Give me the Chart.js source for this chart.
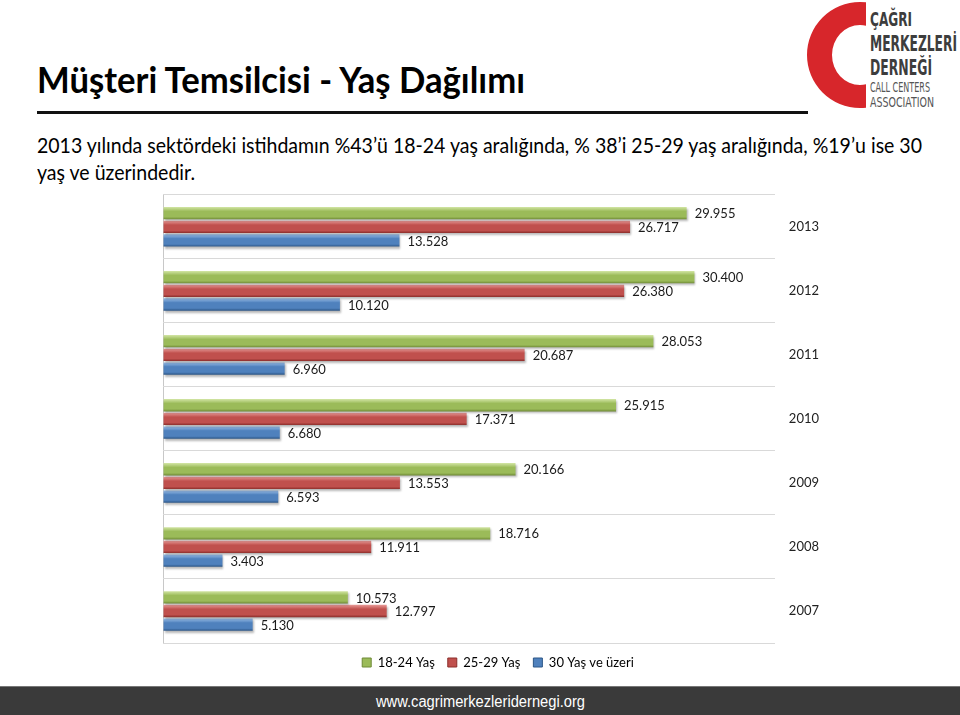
<!DOCTYPE html>
<html lang="tr">
<head>
<meta charset="utf-8">
<title>Müşteri Temsilcisi - Yaş Dağılımı</title>
<script src="https://cdn.jsdelivr.net/npm/chart.js@4/dist/chart.umd.min.js"></script>
<style>
    html, body { margin: 0; padding: 0; background: #fff; }
    body { width: 960px; height: 715px; position: relative; overflow: hidden; font-family: Lato, "Open Sans", sans-serif; color: #000; }
    .fit { position: absolute; white-space: nowrap; transform-origin: 0 0; }
    #title { left: 37px; top: 57px; font-size: 36px; font-weight: 700; line-height: 44px; }
    #rule { position: absolute; left: 37px; top: 111px; width: 771px; height: 3px; background: #111; }
    #sub1 { left: 37px; top: 132px; font-size: 21px; line-height: 26px; }
    #sub2 { left: 37px; top: 159px; font-size: 21px; line-height: 26px; }
    #logo { position: absolute; left: 800px; top: 0; }
    #chart-box { position: absolute; left: 148px; top: 173px; width: 685px; height: 510px; }
    #footer { position: absolute; left: 0; top: 686px; width: 960px; height: 29px; background: #3a3a3a; border-top: 1px solid #777; }
    #footer span { left: 376px; top: 5px; font-family: "Liberation Sans", Arial, sans-serif; font-size: 16px; color: #fff; line-height: 20px; }
</style>
</head>
<body>
<div id="title" class="fit" data-w="488">Müşteri Temsilcisi - Yaş Dağılımı</div>
<div id="rule"></div>
<div id="sub1" class="fit" data-w="885">2013 yılında sektördeki istihdamın %43’ü 18-24 yaş aralığında, % 38’i 25-29 yaş aralığında, %19’u ise 30</div>
<div id="sub2" class="fit" data-w="158">yaş ve üzerindedir.</div>

<svg id="logo" width="160" height="112" viewBox="800 0 160 112">
    <defs>
        <clipPath id="c-cut"><rect x="800" y="0" width="66" height="112"/></clipPath>
    </defs>
    <path clip-path="url(#c-cut)" fill="#d7262b" fill-rule="evenodd"
          d="M 807 55 A 53 53 0 1 0 913 55 A 53 53 0 1 0 807 55 Z M 832 55 A 28 30 0 1 0 888 55 A 28 30 0 1 0 832 55 Z"/>
    <g font-family="'DejaVu Sans Condensed', 'DejaVu Sans', sans-serif" fill="#3d3d3d">
        <text x="870" y="26" font-size="20" font-weight="700" textLength="42" lengthAdjust="spacingAndGlyphs">ÇAĞRI</text>
        <text x="870" y="51" font-size="21" font-weight="700" textLength="87" lengthAdjust="spacingAndGlyphs">MERKEZLERİ</text>
        <text x="870" y="75" font-size="21" font-weight="700" textLength="62" lengthAdjust="spacingAndGlyphs">DERNEĞİ</text>
        <text x="870" y="92" font-size="14" fill="#555" textLength="60" lengthAdjust="spacingAndGlyphs">CALL CENTERS</text>
        <text x="870" y="107" font-size="14" fill="#555" textLength="64" lengthAdjust="spacingAndGlyphs">ASSOCIATION</text>
    </g>
</svg>

<div id="chart-box"><canvas id="yas-chart"></canvas></div>

<div id="footer"><span class="fit" data-w="209">www.cagrimerkezleridernegi.org</span></div>

<script>
// Chart data
const years = ['2013', '2012', '2011', '2010', '2009', '2008', '2007'];
const age1824 = [29955, 30400, 28053, 25915, 20166, 18716, 10573];
const age2529 = [26717, 26380, 20687, 17371, 13553, 11911, 12797];
const age30plus = [13528, 10120, 6960, 6680, 6593, 3403, 5130];
const seriesNames = ['18-24 Yaş', '25-29 Yaş', '30 Yaş ve üzeri'];
const valueMax = 35000;

// base / light / dark shades per series
const shades = [
    ['#9bbb59', '#d2e5a4', '#6f8a36'],
    ['#c0504d', '#e89a97', '#8c2e2b'],
    ['#4f81bd', '#9cc0ea', '#2c5687']
];
const CAT_PCT = 0.64;
const BAR_PCT = 0.9;

// stretch/shrink a text block to the width it has in the picture
function fitText() {
    document.querySelectorAll('.fit').forEach(el => {
        const target = parseFloat(el.dataset.w);
        const actual = el.getBoundingClientRect().width;
        if (actual > 0) el.style.transform = 'scaleX(' + (target / actual) + ')';
    });
}

function formatTr(v) {
    return String(v).replace(/\B(?=(\d{3})+(?!\d))/g, '.');
}

// vertical gloss on each bar, worked out from the category scale
function glossFill(seriesIndex) {
    const [base, light, dark] = shades[seriesIndex];
    return function (c) {
        const yScale = c.chart.scales && c.chart.scales.y;
        if (!yScale || !isFinite(yScale.top) || c.dataIndex === undefined) return base;
        const band = yScale.height / years.length;
        const group = band * CAT_PCT;
        const slot = group / 3;
        const mid = yScale.getPixelForValue(c.dataIndex) - group / 2 + (seriesIndex + 0.5) * slot;
        const half = slot * BAR_PCT / 2;
        const g = c.chart.ctx.createLinearGradient(0, mid - half, 0, mid + half);
        g.addColorStop(0, light);
        g.addColorStop(0.35, base);
        g.addColorStop(0.8, base);
        g.addColorStop(1, dark);
        return g;
    };
}

// soft shadow under the bars
const barShadow = {
    id: 'barShadow',
    beforeDatasetsDraw(chart) {
        const ctx = chart.ctx;
        ctx.save();
        ctx.shadowColor = 'rgba(0,0,0,0.28)';
        ctx.shadowBlur = 2;
        ctx.shadowOffsetX = 1;
        ctx.shadowOffsetY = 2;
    },
    afterDatasetsDraw(chart) {
        chart.ctx.restore();
    }
};

// value labels at the end of every bar
const valueLabels = {
    id: 'valueLabels',
    afterDatasetsDraw(chart) {
        const ctx = chart.ctx;
        ctx.save();
        ctx.font = '13px Lato, "Open Sans", sans-serif';
        ctx.fillStyle = '#1a1a1a';
        ctx.textAlign = 'left';
        ctx.textBaseline = 'middle';
        chart.data.datasets.forEach((ds, i) => {
            chart.getDatasetMeta(i).data.forEach((bar, j) => {
                ctx.fillText(formatTr(ds.data[j]), bar.x + 8, bar.y + 1);
            });
        });
        ctx.restore();
    }
};

function initChart() {
    fitText();
    const ctx = document.getElementById('yas-chart').getContext('2d');
    const seriesData = [age1824, age2529, age30plus];
    new Chart(ctx, {
        type: 'bar',
        data: {
            labels: years,
            datasets: seriesData.map((vals, i) => ({
                label: seriesNames[i],
                data: vals,
                backgroundColor: glossFill(i),
                borderWidth: 0,
                categoryPercentage: CAT_PCT,
                barPercentage: BAR_PCT
            }))
        },
        options: {
            indexAxis: 'y',
            responsive: true,
            maintainAspectRatio: false,
            animation: false,
            events: [],
            layout: { padding: { left: 15, right: 0, top: 7, bottom: 4 } },
            scales: {
                x: {
                    min: 0,
                    max: valueMax,
                    ticks: { display: false, stepSize: 5000 },
                    grid: {
                        drawTicks: false,
                        color: c => (c.tick && c.tick.value === 0 ? '#c8c8c8' : 'rgba(0,0,0,0)')
                    },
                    border: { display: false }
                },
                y: {
                    position: 'right',
                    ticks: {
                        color: '#222',
                        padding: 14,
                        font: { family: 'Lato, "Open Sans", sans-serif', size: 13 }
                    },
                    grid: { color: '#d9d9d9', drawTicks: false, offset: true },
                    border: { display: false }
                }
            },
            plugins: {
                tooltip: { enabled: false },
                legend: {
                    position: 'bottom',
                    labels: {
                        boxWidth: 9,
                        boxHeight: 9,
                        padding: 13,
                        color: '#222',
                        font: { family: 'Lato, "Open Sans", sans-serif', size: 13 },
                        generateLabels: () => seriesNames.map((name, i) => ({
                            text: name,
                            fillStyle: shades[i][0],
                            strokeStyle: shades[i][2],
                            lineWidth: 1,
                            hidden: false,
                            datasetIndex: i
                        }))
                    }
                }
            }
        },
        plugins: [barShadow, valueLabels]
    });
}

document.addEventListener('DOMContentLoaded', initChart);
</script>
</body>
</html>
